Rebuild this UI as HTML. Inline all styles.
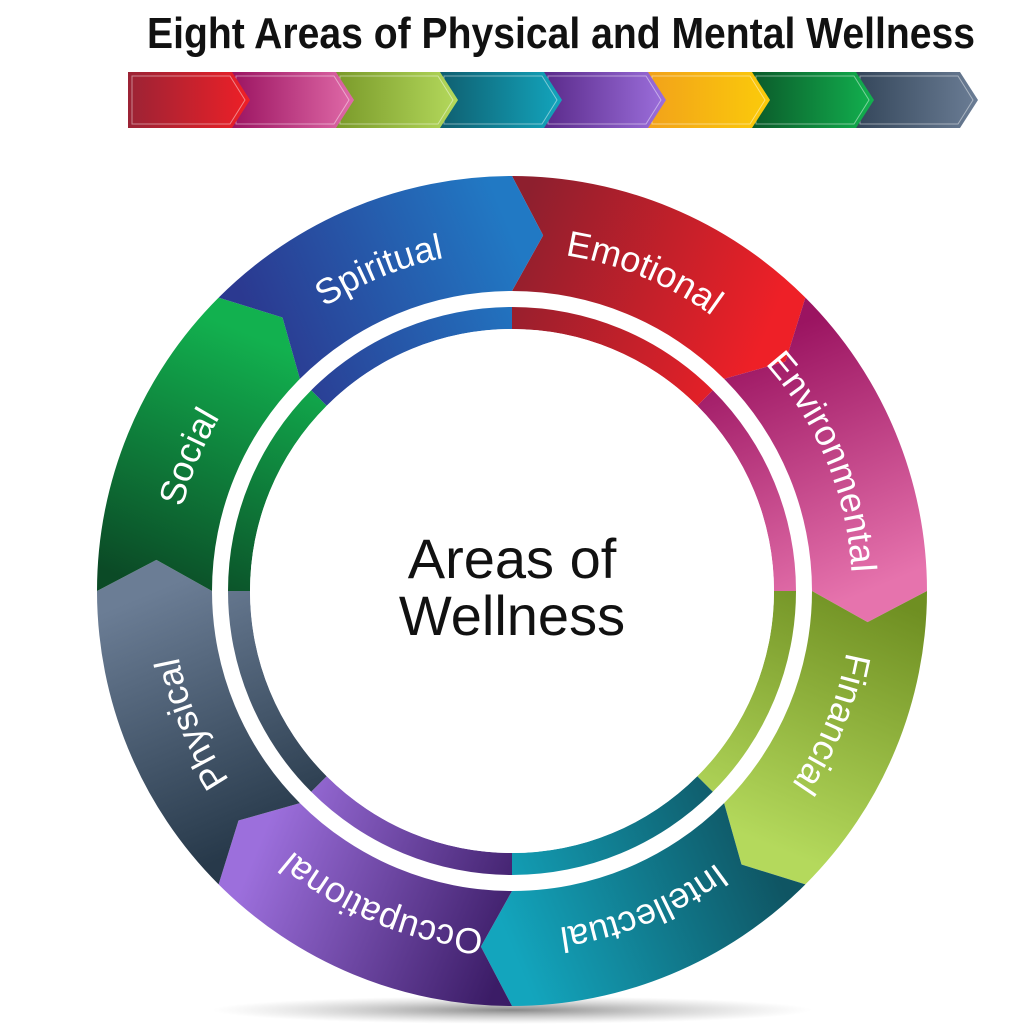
<!DOCTYPE html>
<html><head><meta charset="utf-8"><style>
html,body{margin:0;padding:0;background:#fff;width:1024px;height:1024px;overflow:hidden}
svg{display:block}
</style></head><body>
<svg id="s" width="1024" height="1024" viewBox="0 0 1024 1024" xmlns="http://www.w3.org/2000/svg">
<defs id="d">
<radialGradient id="sh" cx="50%" cy="50%" r="50%"><stop offset="0" stop-color="#555" stop-opacity=".7"/><stop offset="1" stop-color="#999" stop-opacity="0"/></radialGradient>
<path id="lab" d="M512,251 A340,340 0 1 1 512,931 A340,340 0 1 1 512,251"/>
</defs>
<ellipse cx="512" cy="1010" rx="300" ry="14" fill="url(#sh)"/>
<text x="561" y="48" text-anchor="middle" font-family="'Liberation Sans Narrow','Liberation Sans',sans-serif" font-weight="bold" font-size="44" textLength="828" lengthAdjust="spacingAndGlyphs" fill="#111">Eight Areas of Physical and Mental Wellness</text>
<g id="bar"></g>
<g id="ring"></g>
<circle cx="512" cy="591" r="262" fill="#fff"/>
<g font-family="'Liberation Sans Narrow','Liberation Sans',sans-serif" font-size="36" fill="#fff" text-anchor="middle">
<text><textPath href="#lab" startOffset="6.25%">Emotional</textPath></text>
<text><textPath href="#lab" startOffset="18.75%">Environmental</textPath></text>
<text><textPath href="#lab" startOffset="31.25%">Financial</textPath></text>
<text><textPath href="#lab" startOffset="43.75%">Intellectual</textPath></text>
<text><textPath href="#lab" startOffset="56.25%">Occupational</textPath></text>
<text><textPath href="#lab" startOffset="68.75%">Physical</textPath></text>
<text><textPath href="#lab" startOffset="81.25%">Social</textPath></text>
<text><textPath href="#lab" startOffset="93.75%">Spiritual</textPath></text>
</g>
<g font-family="'Liberation Sans',sans-serif" font-size="56" fill="#111" text-anchor="middle">
<text x="512" y="578">Areas of</text>
<text x="512" y="635">Wellness</text>
</g>
</svg>
<script>
var NS="http://www.w3.org/2000/svg";
var cx=512,cy=591,R=415,r=300,rm=357,dd=5;
function pt(rad,a){a=a*Math.PI/180;return (cx+rad*Math.sin(a)).toFixed(1)+","+(cy-rad*Math.cos(a)).toFixed(1);}
var cols=[["#8e1f2e","#ee2027"],["#9b1461","#e673ad"],["#6f8f22","#b4d95c"],["#0f5563","#13a5bd"],["#3b1c66","#9c6fdc"],["#27394a","#6b7d95"],["#0b4a26","#12b14f"],["#2b3990","#2179c4"]];
var defs=document.getElementById("d"),ring=document.getElementById("ring"),bar=document.getElementById("bar");
function grad(id,c,x1,y1,x2,y2){var g=document.createElementNS(NS,"linearGradient");g.setAttribute("id",id);g.setAttribute("gradientUnits","userSpaceOnUse");g.setAttribute("x1",x1);g.setAttribute("y1",y1);g.setAttribute("x2",x2);g.setAttribute("y2",y2);
g.innerHTML='<stop offset="0" stop-color="'+c[0]+'"/><stop offset="1" stop-color="'+c[1]+'"/>';defs.appendChild(g);}
function path(par,d,f,extra){var p=document.createElementNS(NS,"path");p.setAttribute("d",d);p.setAttribute("fill",f);if(extra)for(var k in extra)p.setAttribute(k,extra[k]);par.appendChild(p);}
for(var i=0;i<8;i++){
 var a0=i*45,a1=a0+45;
 var s=pt(rm,a0).split(","),e=pt(rm,a1).split(",");
 grad("g"+i,cols[i],s[0],s[1],e[0],e[1]);
 var d="M"+pt(R,a0)+" A"+R+","+R+" 0 0 1 "+pt(R,a1)+" L"+pt(rm,a1+dd)+" L"+pt(r,a1)+" A"+r+","+r+" 0 0 0 "+pt(r,a0)+" L"+pt(rm,a0+dd)+" Z";
 path(ring,d,"url(#g"+i+")");
 var ri=284,rj=262;
 var d2="M"+pt(ri,a0)+" A"+ri+","+ri+" 0 0 1 "+pt(ri,a1)+" L"+pt(rj,a1)+" A"+rj+","+rj+" 0 0 0 "+pt(rj,a0)+" Z";
 path(ring,d2,"url(#g"+i+")");
}
var bc=[["#9b2335","#ee2027"],["#9b1461","#e06aa8"],["#7a9a2a","#b4d95c"],["#0f5f70","#13a5bd"],["#5a2a8a","#9c6fdc"],["#f2a21a","#fbcb0a"],["#0b5a2a","#12b14f"],["#34465a","#6b7d95"]];
var w=104,x0=128,t=18;
for(var i=7;i>=0;i--){
 var x=x0+i*w;
 grad("b"+i,bc[i],x,0,x+w+t,0);
 var d="M"+x+",72 L"+(x+w)+",72 L"+(x+w+t)+",100 L"+(x+w)+",128 L"+x+",128 Z";
 path(bar,d,"url(#b"+i+")");
 var d3="M"+(x+4)+",76 L"+(x+w-2)+",76 L"+(x+w+t-5)+",100 L"+(x+w-2)+",124 L"+(x+4)+",124 Z";
 path(bar,d3,"none",{stroke:"rgba(255,255,255,0.45)","stroke-width":"1"});
}
</script>
</body></html>
